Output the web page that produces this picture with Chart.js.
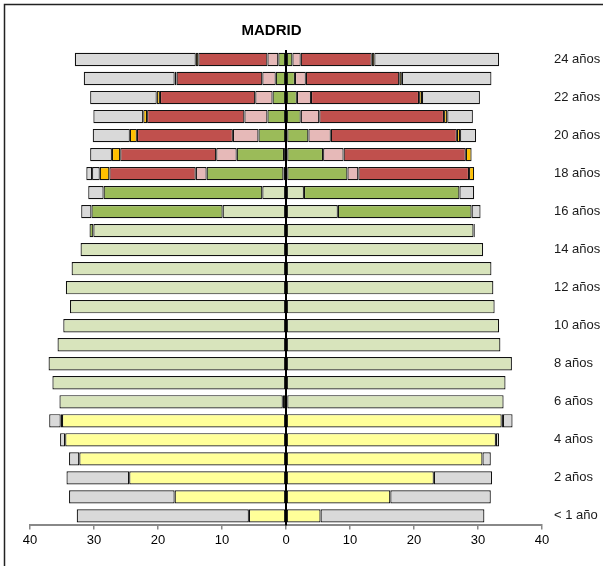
<!DOCTYPE html>
<html>
<head>
<meta charset="utf-8">
<script src="https://cdn.jsdelivr.net/npm/chart.js@4.4.0/dist/chart.umd.min.js"></script>
<style>
  html, body { margin: 0; padding: 0; background: #fff; }
  canvas { display: block; }
</style>
</head>
<body>
<canvas id="c" width="603" height="566"></canvas>
<script>
// Categories (age 0 .. 24)
const ages = ['< 1 año', '1 año', '2 años', '3 años', '4 años', '5 años', '6 años', '7 años', '8 años', '9 años',
  '10 años', '11 años', '12 años', '13 años', '14 años', '15 años', '16 años', '17 años', '18 años', '19 años',
  '20 años', '21 años', '22 años', '23 años', '24 años'];

const title = 'MADRID';
const xTicks = [-40, -30, -20, -10, 0, 10, 20, 30, 40];

// Left side (magnitudes), index = age
const yellowLeft     = [5.8, 17.4, 24.5, 32.3, 34.5, 35.0, 0.5, 0, 0, 0, 0, 0, 0, 0, 0, 0, 0, 0, 0, 0, 0, 0, 0, 0, 0];
const lightGreenLeft = [0, 0, 0, 0, 0, 0.2, 34.9, 36.5, 37.1, 35.7, 34.8, 33.75, 34.4, 33.5, 32.1, 30.1, 9.9, 3.7, 0.4, 0.3, 0, 0, 0, 0, 0];
const greenLeft      = [0, 0, 0, 0, 0, 0, 0, 0, 0, 0, 0, 0, 0, 0, 0, 0.6, 20.5, 24.8, 12.0, 7.4, 4.3, 2.9, 2.1, 1.6, 1.2];
const pinkLeft       = [0, 0, 0, 0, 0, 0, 0, 0, 0, 0, 0, 0, 0, 0, 0, 0, 0, 0, 1.7, 3.2, 4.0, 3.6, 2.7, 2.1, 1.7];
const redLeft        = [0, 0, 0, 0, 0, 0, 0, 0, 0, 0, 0, 0, 0, 0, 0, 0, 0, 0, 13.5, 15.0, 15.0, 15.2, 14.9, 13.4, 10.8];
const orangeLeft     = [0, 0, 0, 0, 0, 0, 0, 0, 0, 0, 0, 0, 0, 0, 0, 0, 0, 0, 1.5, 1.3, 1.1, 0.6, 0.5, 0.3, 0.4];
const otherLeft      = [0, 0, 0, 0, 0, 0, 0, 0, 0, 0, 0, 0, 0, 0, 0, 0, 0, 0, 1.2, 0, 0, 0, 0, 0, 0];
const grayLeft       = [26.9, 16.5, 9.8, 1.6, 0.8, 1.8, 0, 0, 0, 0, 0, 0, 0, 0, 0, 0, 1.6, 2.4, 0.9, 3.4, 5.8, 7.8, 10.4, 14.2, 18.9];

// Right side, index = age
const yellowRight     = [5.4, 16.3, 23.1, 30.7, 32.8, 33.7, 0.2, 0, 0, 0, 0, 0, 0, 0, 0, 0, 0, 0, 0, 0, 0, 0, 0, 0, 0];
const lightGreenRight = [0, 0, 0, 0, 0, 0.2, 33.8, 34.3, 35.3, 33.5, 33.3, 32.6, 32.4, 32.1, 30.8, 29.3, 8.1, 2.8, 0.2, 0.2, 0.2, 0, 0, 0, 0];
const greenRight      = [0, 0, 0, 0, 0, 0, 0, 0, 0, 0, 0, 0, 0, 0, 0, 0.2, 20.9, 24.3, 9.4, 5.6, 3.3, 2.3, 1.7, 1.4, 1.0];
const pinkRight       = [0, 0, 0, 0, 0, 0, 0, 0, 0, 0, 0, 0, 0, 0, 0, 0, 0, 0, 1.7, 3.2, 3.5, 2.9, 2.2, 1.7, 1.3];
const redRight        = [0, 0, 0, 0, 0, 0, 0, 0, 0, 0, 0, 0, 0, 0, 0, 0, 0, 0, 17.3, 19.1, 19.7, 19.5, 16.9, 14.6, 11.1];
const orangeRight     = [0, 0, 0, 0, 0, 0, 0, 0, 0, 0, 0, 0, 0, 0, 0, 0, 0, 0, 0.8, 0.9, 0.5, 0.5, 0.45, 0.4, 0.4];
const otherRight      = [0, 0, 0, 0, 0, 0, 0, 0, 0, 0, 0, 0, 0, 0, 0, 0, 0, 0, 0, 0, 0, 0, 0, 0, 0];
const grayRight       = [25.6, 15.7, 9.1, 1.3, 0.5, 1.5, 0, 0, 0, 0, 0, 0, 0, 0, 0, 0, 1.4, 2.3, 0, 0, 2.5, 4.0, 9.05, 14.0, 19.5];

const series = [
  { name: 'Infantil',     color: '#FFFF99', left: yellowLeft,     right: yellowRight },
  { name: 'Primaria',     color: '#D8E4BC', left: lightGreenLeft, right: lightGreenRight },
  { name: 'ESO',          color: '#9BBB59', left: greenLeft,      right: greenRight },
  { name: 'Bachillerato', color: '#E6B9B8', left: pinkLeft,       right: pinkRight },
  { name: 'Universidad',  color: '#C0504D', left: redLeft,        right: redRight },
  { name: 'FP',           color: '#FFC000', left: orangeLeft,     right: orangeRight },
  { name: 'Otros',        color: '#D9D9D9', left: otherLeft,      right: otherRight },
  { name: 'No estudia',   color: '#D9D9D9', left: grayLeft,       right: grayRight }
];

const datasets = [];
series.forEach(s => {
  const common = {
    backgroundColor: s.color,
    borderColor: '#111',
    borderWidth: 1.2,
    borderSkipped: false,
    barPercentage: 0.7,
    categoryPercentage: 1.0,
    stack: 'p'
  };
  datasets.push(Object.assign({ label: s.name + ' (izq.)', data: s.left.map(v => v ? -v : null) }, common));
  datasets.push(Object.assign({ label: s.name + ' (dcha.)', data: s.right.map(v => v ? v : null) }, common));
});

const decor = {
  id: 'decor',
  afterDatasetsDraw(chart) {
    const ctx = chart.ctx;
    const a = chart.chartArea;
    const x0 = chart.scales.x.getPixelForValue(0);
    ctx.save();
    ctx.strokeStyle = '#000';
    ctx.lineWidth = 2;
    ctx.beginPath();
    ctx.moveTo(x0, a.top);
    ctx.lineTo(x0, a.bottom);
    ctx.stroke();
    ctx.restore();
  },
  afterDraw(chart) {
    const ctx = chart.ctx;
    ctx.save();
    ctx.fillStyle = '#000';
    ctx.font = 'bold 15px "Liberation Sans", Arial, sans-serif';
    ctx.textAlign = 'center';
    ctx.textBaseline = 'middle';
    ctx.fillText(title, (chart.width - 60) / 2, 31);
    ctx.strokeStyle = '#222';
    ctx.lineWidth = 1.5;
    ctx.beginPath();
    ctx.moveTo(4.5, chart.height + 5);
    ctx.lineTo(4.5, 4.5);
    ctx.lineTo(chart.width + 5, 4.5);
    ctx.stroke();
    ctx.restore();
  }
};

new Chart(document.getElementById('c'), {
  type: 'bar',
  data: { labels: ages, datasets },
  options: {
    indexAxis: 'y',
    responsive: false,
    animation: false,
    devicePixelRatio: 1,
    layout: { padding: { left: 30, top: 50, right: 0, bottom: 15 } },
    plugins: {
      legend: { display: false },
      tooltip: { enabled: false },
      title: { display: false }
    },
    scales: {
      x: {
        stacked: true,
        min: xTicks[0],
        max: xTicks[xTicks.length - 1],
        afterBuildTicks(scale) { scale.ticks = xTicks.map(v => ({ value: v })); },
        ticks: {
          callback: v => Math.abs(v),
          color: '#000',
          font: { family: 'Arial, "Liberation Sans", sans-serif', size: 13, weight: 'normal' },
          padding: 3,
          maxRotation: 0
        },
        grid: { drawOnChartArea: false, drawTicks: true, tickLength: 4, color: '#888', lineWidth: 1.5 },
        border: { display: true, color: '#888', width: 2 }
      },
      y: {
        stacked: true,
        position: 'right',
        reverse: true,
        afterFit(scale) { scale.width = 61; },
        ticks: {
          autoSkip: false,
          callback: function (v, i) { return i % 2 === 0 ? ages[i] : ''; },
          color: '#1a1a1a',
          font: { family: 'Arial, "Liberation Sans", sans-serif', size: 13, weight: 'normal' },
          padding: 12
        },
        grid: { display: false, drawTicks: false },
        border: { display: false }
      }
    }
  },
  plugins: [decor]
});
</script>
</body>
</html>
